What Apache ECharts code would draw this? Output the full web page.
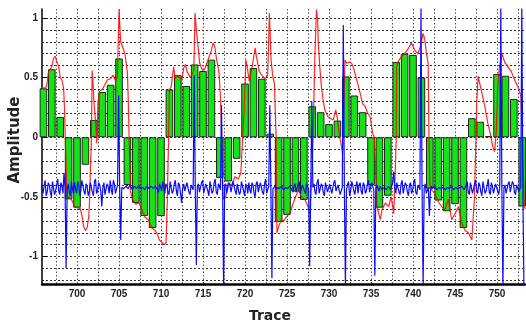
<!DOCTYPE html>
<html>
<head>
<meta charset="utf-8">
<script src="https://cdn.jsdelivr.net/npm/echarts@6/dist/echarts.min.js"></script>
<style>
  html, body { margin: 0; padding: 0; background: #fff; }
  #chart { width: 526px; height: 325px; }
</style>
</head>
<body>
<div id="chart"></div>
<script>
// trace numbers and bar amplitude per trace
const traces = [696, 697, 698, 699, 700, 701, 702, 703, 704, 705, 706, 707, 708, 709, 710,
  711, 712, 713, 714, 715, 716, 717, 718, 719, 720, 721, 722, 723, 724, 725, 726, 727, 728, 729, 730,
  731, 732, 733, 734, 735, 736, 737, 738, 739, 740, 741, 742, 743, 744, 745, 746, 747, 748, 749, 750,
  751, 752, 753];
const barValues = [0.41, 0.57, 0.17, -0.52, -0.59, -0.23, 0.145, 0.38, 0.44, 0.66, -0.40, -0.55, -0.66, -0.76, -0.66,
  0.40, 0.52, 0.43, 0.61, 0.555, 0.65, -0.34, -0.37, -0.18, 0.45, 0.58, 0.49, 0.03, -0.71, -0.65, -0.455, -0.525, 0.26, 0.21, 0.11,
  0.14, 0.51, 0.35, 0.21, -0.40, -0.59, -0.49, 0.63, 0.70, 0.69, 0.50, -0.43, -0.53, -0.62, -0.56, -0.76, 0.16, 0.13, 0.01, 0.53,
  0.515, 0.32, -0.58];

// tick values
const xLabelValues = [700, 705, 710, 715, 720, 725, 730, 735, 740, 745, 750];
const xGridValues = [697.5, 700, 702.5, 705, 707.5, 710, 712.5, 715, 717.5, 720, 722.5, 725, 727.5, 730,
  732.5, 735, 737.5, 740, 742.5, 745, 747.5, 750, 752.5];
const yLabelValues = [-1, -0.5, 0, 0.5, 1];
const yGridValues = [-1.2, -1.1, -1, -0.9, -0.8, -0.7, -0.6, -0.5, -0.4, -0.3, -0.2, -0.1, 0,
  0.1, 0.2, 0.3, 0.4, 0.5, 0.6, 0.7, 0.8, 0.9, 1];

// red amplitude trace [trace, value]
const redLine = [
  [695.7, 0.42], [696.1, 0.41], [696.4, 0.43], [696.6, 0.55], [697.0, 0.59], [697.2, 0.66], [697.4, 0.68],
  [697.6, 0.63], [697.8, 0.60], [698.0, 0.50], [698.2, 0.48], [698.4, 0.41], [698.5, 0.26], [698.6, 0.0],
  [698.8, -0.51], [699.1, -0.50], [699.4, -0.53], [699.7, -0.58], [700.1, -0.59], [700.4, -0.60], [700.6, -0.66],
  [700.8, -0.75], [701.0, -0.78], [701.2, -0.76], [701.4, -0.66], [701.5, -0.52], [701.6, -0.25], [701.7, -0.05],
  [701.8, 0.56], [701.9, 0.47], [702.0, 0.30], [702.2, 0.14], [702.35, -0.05], [702.5, 0.30], [702.7, 0.39],
  [703.0, 0.40], [703.3, 0.44], [703.6, 0.48], [704.0, 0.49], [704.3, 0.52], [704.6, 0.47], [704.8, 0.51],
  [704.9, 0.79], [705.0, 1.07], [705.1, 0.93], [705.2, 0.80], [705.4, 0.76], [705.7, 0.70], [706.0, 0.54],
  [706.1, 0.31], [706.2, 0.0], [706.35, -0.45], [706.6, -0.52], [707.0, -0.56], [707.4, -0.55], [707.8, -0.62],
  [708.1, -0.67], [708.5, -0.69], [708.9, -0.76], [709.3, -0.78], [709.6, -0.82], [709.8, -0.86], [710.1, -0.88],
  [710.4, -0.90], [710.6, -0.88], [710.75, -0.52], [710.9, 0.0], [711.0, 0.40], [711.2, 0.42], [711.5, 0.59],
  [711.7, 0.49], [711.9, 0.52], [712.1, 0.50], [712.5, 0.49], [712.7, 0.58], [712.9, 0.61], [713.1, 0.55],
  [713.5, 0.50], [713.9, 0.56], [714.05, 1.04], [714.25, 0.87], [714.45, 0.73], [714.6, 0.62], [714.95, 0.56],
  [715.2, 0.57], [715.6, 0.65], [716.0, 0.73], [716.2, 0.79], [716.4, 0.76], [716.6, 0.66], [716.9, 0.54],
  [717.1, 0.31], [717.2, 0.0], [717.4, -0.52], [717.7, -0.50], [718.0, -0.38], [718.4, -0.40], [718.8, -0.33],
  [719.2, -0.35], [719.5, -0.30], [719.7, -0.02], [719.9, 0.23], [720.0, 0.45], [720.1, 0.65], [720.3, 0.57],
  [720.5, 0.47], [720.7, 0.54], [720.9, 0.61], [721.2, 0.75], [721.4, 0.66], [721.7, 0.55], [722.0, 0.52],
  [722.4, 0.49], [722.7, 0.52], [722.9, 1.04], [723.1, 0.65], [723.3, 0.51], [723.5, 0.45], [723.7, 0.0],
  [723.8, -0.80], [724.0, -0.75], [724.3, -0.69], [724.6, -0.70], [725.0, -0.66], [725.3, -0.64], [725.6, -0.58],
  [726.0, -0.50], [726.4, -0.44], [726.7, -0.50], [727.1, -0.52], [727.3, -0.53], [727.5, -0.58], [727.7, -0.64],
  [728.0, -0.25], [728.1, 0.0], [728.3, 0.65], [728.5, 1.07], [728.65, 0.98], [728.7, 0.82], [728.9, 0.59],
  [729.1, 0.42], [729.3, 0.31], [729.5, 0.23], [729.9, 0.17], [730.1, 0.18], [730.5, 0.145], [730.8, 0.23],
  [731.0, 0.16], [731.2, 0.03], [731.4, -0.04], [731.6, -0.13], [731.8, 0.31], [731.9, 0.65], [732.1, 0.62],
  [732.4, 0.63], [732.7, 0.62], [733.0, 0.56], [733.3, 0.48], [733.7, 0.37], [734.0, 0.28], [734.3, 0.26],
  [734.6, 0.20], [734.9, 0.17], [735.2, 0.03], [735.4, 0.0], [735.7, -0.58], [736.1, -0.69], [736.3, -0.61],
  [736.7, -0.55], [737.1, -0.58], [737.4, -0.50], [737.7, -0.64], [737.9, -0.25], [738.0, 0.0], [738.05, 0.59],
  [738.2, 0.63], [738.6, 0.675], [739.0, 0.70], [739.4, 0.74], [739.8, 0.79], [740.2, 0.73], [740.6, 0.70],
  [740.95, 0.78], [741.2, 0.87], [741.4, 0.82], [741.6, 0.70], [741.8, 0.62], [741.9, 0.0], [742.0, -0.39],
  [742.2, -0.44], [742.6, -0.47], [743.0, -0.54], [743.4, -0.58], [743.8, -0.61], [744.2, -0.52], [744.6, -0.69],
  [745.0, -0.64], [745.4, -0.58], [745.8, -0.72], [746.2, -0.78], [746.6, -0.80], [747.0, -0.86], [747.2, -0.87],
  [747.3, -0.52], [747.5, 0.0], [747.6, 0.31], [747.75, 0.51], [747.95, 0.45], [748.2, 0.37], [748.55, 0.26],
  [748.9, 0.12], [749.2, 0.03], [749.5, -0.08], [749.7, -0.12], [749.9, 0.03], [750.1, 0.45], [750.3, 0.59],
  [750.6, 0.70], [750.9, 0.63], [751.3, 0.59], [751.7, 0.55], [752.1, 0.48], [752.5, 0.42], [752.85, 0.34],
  [753.0, 0.0], [753.25, -0.58], [753.4, -0.60]
];

// blue noise trace: samples every quarter trace, plus the samples half way between them
const blueStart = 695.7;
const blueStep = 0.25;
const blueValues = [
  -0.39, -0.47, -0.36, -0.46, -0.40, -0.50, -0.38, -0.45,
  -0.35, -0.48, -0.41, -0.30, -1.10, -0.39, -0.49, -0.43,
  -0.38, -0.47, -0.40, -0.45, -0.37, -0.48, -0.41, -0.46,
  -0.39, -0.49, -0.35, -0.45, -0.40, -0.58, -0.38, -0.47,
  -0.41, -0.36, -0.48, -0.39, -0.46, 0.35, -0.86, -0.41,
  -0.44, -0.40, -0.43, -0.41, -0.44, -0.42, -0.43, -0.40,
  -0.44, -0.41, -0.43, -0.42, -0.44, -0.40, -0.43, -0.42,
  -0.46, -0.40, -0.37, -0.47, -0.41, -0.48, -0.38, -0.45,
  -0.36, -0.49, -0.40, -0.55, -0.39, -0.46, -0.37, -0.48,
  -0.41, 0.52, -1.07, -0.39, -0.47, -0.36, -0.46, -0.40,
  -0.49, -0.38, -0.45, -0.35, -0.48, -0.41, 0.27, -1.25,
  -0.39, -0.46, -0.40, -0.45, -0.37, -0.48, -0.39, -0.46,
  -0.36, -0.49, -0.41, -0.38, -0.47, -0.40, -0.50, -0.37,
  -0.45, -0.39, -0.48, -0.35, -0.46, 0.27, -1.18, -0.42,
  -0.44, -0.41, -0.43, -0.42, -0.44, -0.41, -0.43, -0.42,
  -0.46, -0.39, -0.45, -0.37, -0.48, -0.40, -0.47, -0.41,
  -1.08, 0.30, -0.39, -0.48, -0.35, -0.46, -0.41, -0.49,
  -0.38, -0.45, -0.40, -0.48, -0.36, -0.46, -0.39, -0.47,
  0.94, -1.25, -0.40, -0.49, -0.37, -0.45, -0.41, -0.47,
  -0.38, -0.48, -0.40, -0.45, -0.36, -0.47, -0.41, -1.16,
  -0.40, -0.45, -0.42, -0.44, -0.41, -0.43, -0.42, -0.45,
  -0.29, -0.47, -0.39, -0.48, -0.36, -0.46, -0.40, -0.49,
  -0.38, -0.45, -0.35, -0.48, -0.41, 1.10, -1.25, -0.39,
  -0.46, -0.66, -0.41, -0.44, -0.42, -0.43, -0.41, -0.44,
  -0.42, -0.43, -0.41, -0.44, -0.42, -0.43, -0.41, -0.44,
  -0.43, -0.42, -0.45, -0.37, -0.48, -0.39, -0.46, -0.36,
  -0.47, -0.40, -0.49, -0.38, -0.45, -0.35, -0.48, -0.41,
  -0.46, -0.38, -0.48, 1.10, -1.25, -0.40, -0.47, -0.37,
  -0.45, -0.39, -0.48, -0.41, -0.46, 1.10, -1.25
];
const blueMid = [
  -0.44, -0.41, -0.49, -0.38, -0.46, -0.37, -0.48, -0.40,
  -0.45, -0.38, -0.47, -0.42, -0.44, -0.46, -0.37, -0.47,
  -0.43, -0.37, -0.49, -0.36, -0.45, -0.39, -0.49, -0.38,
  -0.46, -0.37, -0.47, -0.38, -0.45, -0.42, -0.48, -0.39,
  -0.47, -0.44, -0.36, -0.47, -0.40, -0.42, -0.42, -0.43,
  -0.41, -0.43, -0.40, -0.44, -0.41, -0.43, -0.41, -0.43,
  -0.42, -0.44, -0.41, -0.43, -0.41, -0.43, -0.41, -0.44,
  -0.39, -0.45, -0.42, -0.39, -0.46, -0.37, -0.47, -0.39,
  -0.45, -0.38, -0.47, -0.43, -0.45, -0.38, -0.46, -0.40,
  -0.44, -0.42, -0.41, -0.46, -0.38, -0.47, -0.39, -0.45,
  -0.37, -0.47, -0.38, -0.46, -0.39, -0.44, -0.42, -0.41,
  -0.47, -0.38, -0.46, -0.37, -0.45, -0.39, -0.48, -0.37,
  -0.45, -0.39, -0.47, -0.44, -0.38, -0.47, -0.39, -0.46,
  -0.38, -0.46, -0.39, -0.47, -0.41, -0.42, -0.43, -0.41,
  -0.42, -0.43, -0.41, -0.44, -0.42, -0.43, -0.41, -0.44,
  -0.41, -0.46, -0.39, -0.47, -0.40, -0.45, -0.39, -0.44,
  -0.43, -0.42, -0.46, -0.38, -0.47, -0.39, -0.47, -0.38,
  -0.46, -0.39, -0.47, -0.38, -0.45, -0.40, -0.48, -0.42,
  -0.42, -0.44, -0.37, -0.45, -0.40, -0.48, -0.37, -0.40,
  -0.45, -0.38, -0.47, -0.39, -0.46, -0.38, -0.44, -0.43,
  -0.43, -0.41, -0.44, -0.42, -0.44, -0.41, -0.44, -0.38,
  -0.42, -0.38, -0.46, -0.39, -0.47, -0.38, -0.46, -0.40,
  -0.47, -0.38, -0.46, -0.40, -0.44, -0.42, -0.43, -0.47,
  -0.42, -0.44, -0.43, -0.41, -0.44, -0.42, -0.43, -0.42,
  -0.44, -0.42, -0.43, -0.41, -0.44, -0.42, -0.43, -0.42,
  -0.41, -0.44, -0.40, -0.46, -0.38, -0.47, -0.39, -0.45,
  -0.38, -0.46, -0.37, -0.47, -0.40, -0.46, -0.38, -0.47,
  -0.39, -0.45, -0.42, -0.43, -0.42, -0.47, -0.39, -0.46,
  -0.37, -0.46, -0.40, -0.45, -0.42, -0.43
];

const bluePoints = [];
blueValues.forEach((v, i) => {
  const t = blueStart + i * blueStep;
  bluePoints.push([t, v]);
  if (i < blueMid.length) bluePoints.push([t + blueStep / 2, blueMid[i]]);
});

const chart = echarts.init(document.getElementById('chart'), null, {renderer: 'canvas'});

const xMin = 695.83, xMax = 753.33;
const yMin = -1.229, yMax = 1.0745;
const labelFont = {color: '#222', fontFamily: 'Liberation Sans', fontWeight: 'bold', fontSize: 10};

chart.setOption({
  animation: false,
  backgroundColor: '#fff',
  grid: {left: 42, top: 9, width: 483, height: 275, outerBoundsMode: 'none'},
  xAxis: [
    {
      type: 'value', min: xMin, max: xMax, position: 'bottom',
      axisLine: {onZero: false, lineStyle: {color: '#000', width: 2.5}},
      axisTick: {show: false},
      axisLabel: Object.assign({customValues: xLabelValues, margin: 5}, labelFont),
      splitLine: {show: false}
    },
    {
      // only for the vertical dotted grid
      type: 'value', min: xMin, max: xMax, position: 'top',
      axisLine: {show: false},
      axisTick: {show: false, customValues: xGridValues},
      axisLabel: {show: false},
      splitLine: {show: true, lineStyle: {color: '#555', width: 1, type: [1.5, 2]}}
    }
  ],
  yAxis: [
    {
      type: 'value', min: yMin, max: yMax, position: 'left',
      axisLine: {show: true, onZero: false, lineStyle: {color: '#000', width: 1.5}},
      axisTick: {show: true, inside: true, length: 5, customValues: yLabelValues, lineStyle: {color: '#000'}},
      axisLabel: Object.assign({customValues: yLabelValues, margin: 4}, labelFont),
      splitLine: {show: false}
    },
    {
      // horizontal dotted grid
      type: 'value', min: yMin, max: yMax, position: 'right',
      axisLine: {show: false},
      axisTick: {show: false, customValues: yGridValues},
      axisLabel: {show: false},
      splitLine: {show: true, lineStyle: {color: '#333', width: 1, type: [2, 2]}}
    }
  ],
  graphic: [
    {
      type: 'text', x: 15, y: 140, rotation: Math.PI / 2,
      style: {text: 'Amplitude', fill: '#222', font: 'bold 15px "DejaVu Sans"', textAlign: 'center', textVerticalAlign: 'middle'}
    },
    {
      type: 'text', x: 270, y: 316,
      style: {text: 'Trace', fill: '#222', font: 'bold 14px "DejaVu Sans"', textAlign: 'center', textVerticalAlign: 'middle'}
    }
  ],
  series: [
    {
      type: 'bar',
      data: traces.map((t, i) => [t, barValues[i]]),
      barWidth: 7.6,
      itemStyle: {color: '#14e314', borderColor: '#222', borderWidth: 1},
      z: 2
    },
    {
      type: 'line',
      data: redLine,
      showSymbol: false,
      lineStyle: {color: '#ff0000', width: 1.2, opacity: 0.85},
      z: 3
    },
    {
      type: 'line',
      data: bluePoints,
      showSymbol: false,
      lineStyle: {color: '#0a0aff', width: 1.2},
      z: 4
    }
  ]
});
</script>
</body>
</html>
